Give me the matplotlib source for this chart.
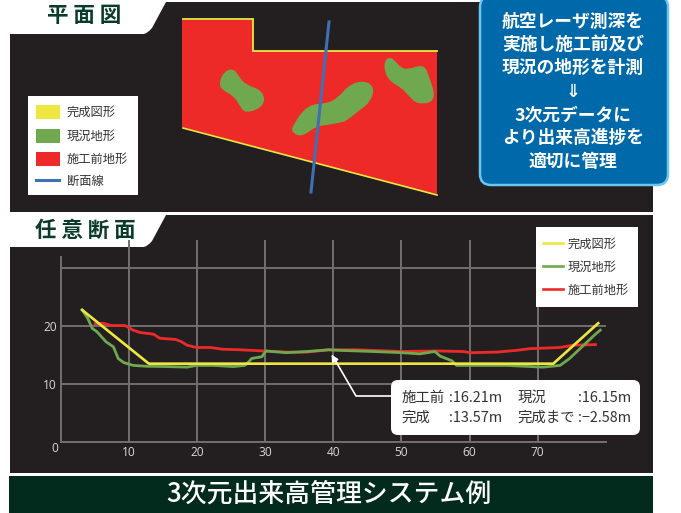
import matplotlib
matplotlib.use("Agg")
import matplotlib.pyplot as plt
from matplotlib.patches import Polygon, Rectangle, FancyBboxPatch, PathPatch
from matplotlib.path import Path

plt.rcParams['font.family'] = ['Noto Sans CJK JP', 'DejaVu Sans']

W, H = 681, 513
DARK = '#231f20'
RED = '#ee2a29'
GREEN = '#6fa84f'
YELLOW = '#efe741'
BLUE = '#3f6fb5'
TITLE = '#0b3b2a'
GRID = '#716f71'

# section profile (distance, elevation)
yellow_x = [3.1, 12.9, 72.3, 78.9]
yellow_y = [22.8, 13.5, 13.5, 20.5]
green_x = [3.1, 3.9, 4.6, 5.3, 6.6, 7.7, 8.4, 9.2, 10.6, 12.6, 15.5, 18.5, 19.9, 22.4, 25.3, 27.0, 27.6, 28.0,
           29.5, 30.1, 33.1, 36.1, 39.3, 41.0, 45.9, 50.1, 52.7, 54.9, 55.7, 57.4, 58.1, 60.6, 65.4, 70.8,
           73.3, 74.7, 76.5, 78.4, 79.2]
green_y = [22.8, 21.4, 19.6, 19.0, 17.3, 16.4, 14.4, 13.7, 13.2, 13.05, 13.0, 12.9, 13.2, 13.2, 13.0, 13.2, 13.85,
           14.4, 14.7, 15.7, 15.4, 15.6, 15.9, 15.8, 15.6, 15.4, 15.2, 15.6, 14.8, 14.0, 13.2, 13.2, 13.2, 12.9,
           13.2, 14.4, 16.4, 18.5, 19.3]
red_x = [5.0, 6.2, 7.4, 9.4, 10.6, 11.6, 13.6, 14.5, 16.8, 17.7, 18.5, 19.9, 21.9, 23.7, 26.3, 29.7, 33.1, 36.1,
         39.3, 43.4, 50.1, 55.2, 59.1, 60.1, 64.0, 66.9, 68.9, 73.3, 75.2, 78.5]
red_y = [20.4, 20.5, 20.1, 20.1, 19.3, 18.9, 18.6, 17.9, 17.7, 17.3, 16.7, 16.3, 16.3, 16.0, 15.9, 15.7, 15.5,
         15.5, 15.9, 15.9, 15.6, 15.7, 15.6, 15.4, 15.5, 15.8, 16.1, 16.3, 16.7, 16.8]
x_ticks = [10, 20, 30, 40, 50, 60, 70]
y_ticks = [0, 10, 20, 30]
y_tick_labels = ['', '10', '20', '']

# plan view outlines (image pixels)
plan_red = [(182, 20), (253, 20), (253, 51), (437, 51), (437, 195), (182, 127)]
plan_yellow_top = [(183, 19), (253, 19), (253, 50.5), (437, 50.5)]
plan_yellow_bottom = [(183, 128), (437, 195)]
plan_section = [(329, 22), (311, 192)]
blob_a = [(221, 82), (225, 73), (233, 70), (238, 78), (245, 86), (262, 92), (263, 105), (246, 112), (241, 105),
          (235, 95), (222, 88)]
blob_b = [(293, 128), (308, 106), (328, 105), (340, 98), (350, 86), (364, 82), (373, 88), (369, 101), (360, 108),
          (345, 120), (340, 121), (330, 123), (315, 125), (302, 135), (294, 132)]
blob_c = [(385, 65), (389, 58), (395, 63), (400, 69), (408, 71), (423, 66), (427, 75), (435, 100), (418, 103),
          (410, 95), (403, 87), (389, 79)]

box_lines = ['航空レーザ測深を', '実施し施工前及び', '現況の地形を計測', '⇓', '3次元データに', 'より出来高進捗を', '適切に管理']
plan_legend = ['完成図形', '現況地形', '施工前地形', '断面線']
chart_legend = ['完成図形', '現況地形', '施工前地形']

fig = plt.figure(figsize=(W / 100, H / 100), dpi=100, facecolor='white')

def full_axes(z):
    a = fig.add_axes([0, 0, 1, 1], zorder=z)
    a.set_xlim(0, W)
    a.set_ylim(H, 0)
    a.axis('off')
    return a

bg = full_axes(0)
top = full_axes(5)

# panels
bg.add_patch(Rectangle((10, 2), 643, 210, fc=DARK, ec='none'))
bg.add_patch(Rectangle((10, 215), 643, 258, fc=DARK, ec='none'))
bg.add_patch(Rectangle((9, 476), 644, 37, fc='#022a1d', ec='none'))

def tab(y0):
    v = [(10, y0 - 2), (166, y0 - 2), (166, y0), (152, y0 + 26), (147, y0 + 32), (143, y0 + 32), (10, y0 + 32), (10, y0 - 2)]
    c = [Path.MOVETO, Path.LINETO, Path.LINETO, Path.LINETO, Path.CURVE3, Path.CURVE3, Path.LINETO, Path.CLOSEPOLY]
    bg.add_patch(PathPatch(Path(v, c), fc='white', ec='none'))

tab(2)
tab(215)
bg.text(84, 16, '平 面 図', fontsize=15.5, fontweight='bold', color=TITLE, ha='center', va='center')
bg.text(85, 230, '任 意 断 面', fontsize=15.5, fontweight='bold', color=TITLE, ha='center', va='center')
bg.text(329, 494, '3次元出来高管理システム例', fontsize=18.6, fontweight='medium', color='white', ha='center', va='center')

# plan
bg.add_patch(Polygon(plan_red, closed=True, fc=RED, ec='none'))

def blob(pts):
    n = len(pts)
    mid = lambda p, q: ((p[0] + q[0]) / 2, (p[1] + q[1]) / 2)
    v = [mid(pts[-1], pts[0])]
    c = [Path.MOVETO]
    for i in range(n):
        v += [pts[i], mid(pts[i], pts[(i + 1) % n])]
        c += [Path.CURVE3, Path.CURVE3]
    bg.add_patch(PathPatch(Path(v, c), fc=GREEN, ec=GREEN, lw=2.2))

blob(blob_a)
blob(blob_b)
blob(blob_c)
bg.plot(*zip(*plan_yellow_top), color=YELLOW, lw=1.3, solid_joinstyle='miter')
bg.plot(*zip(*plan_yellow_bottom), color=YELLOW, lw=1.2)
bg.plot(*zip(*plan_section), color=BLUE, lw=2.2)

# plan legend
bg.add_patch(Rectangle((28, 96), 110, 99, fc='white', ec='none'))
for yc, col in zip([112, 135.5, 159], [YELLOW, GREEN, RED]):
    bg.add_patch(Rectangle((36, yc - 7), 24, 14, fc=col, ec='none'))
bg.plot([36, 59], [180, 180], color=BLUE, lw=2.2)
for yc, s in zip([112.5, 136, 159, 181], plan_legend):
    bg.text(66.5, yc, s, fontsize=8.8, color='#333333', ha='left', va='center')

# blue box
top.add_patch(FancyBboxPatch((487, 3), 174, 175, boxstyle='round,pad=7,rounding_size=11',
                             fc='#0069aa', ec='#6cc5f1', lw=1.8, clip_on=False))
for yc, s in zip([22, 45, 68, 92, 115, 138, 162], box_lines):
    top.text(573, yc, s, fontsize=12.8, fontweight='bold', fontstyle='italic', color='white', ha='center', va='center')

# chart
x0, x80, y0_px, y_top = 61, 605.7, 441.7, 240
ax = fig.add_axes([x0 / W, 1 - y0_px / H, (x80 - x0) / W, (y0_px - y_top) / H], zorder=2)
ax.patch.set_alpha(0)
ax.set_xlim(0, 80)
ax.set_ylim(0, (y0_px - y_top) / 5.78)
ax.set_xticks(x_ticks)
ax.set_yticks(y_ticks, labels=y_tick_labels)
ax.grid(True, color=GRID, lw=1.4)
ax.set_axisbelow(True)
for s in ['top', 'right']:
    ax.spines[s].set_visible(False)
for s in ['left', 'bottom']:
    ax.spines[s].set_color(GRID)
    ax.spines[s].set_linewidth(1.4)
ax.spines['left'].set_bounds(0, 32)
ax.tick_params(length=0, labelcolor='#d8d8d8', labelsize=8.6, pad=3)
for lab in ax.get_xticklabels() + ax.get_yticklabels():
    lab.set_family('Open Sans')
ax.plot(red_x, red_y, color=RED, lw=2)
ax.plot(green_x, green_y, color=GREEN, lw=2)
ax.plot(yellow_x, yellow_y, color=YELLOW, lw=1.9)
top.text(55, 449, '0', family='Open Sans', fontsize=8.6, color='#d8d8d8', ha='center', va='center')

# chart legend
top.add_patch(Rectangle((536, 227), 102, 80, fc='white', ec='none'))
for yc, col, s in zip([243, 266, 289], [YELLOW, GREEN, RED], chart_legend):
    top.plot([543, 563], [yc, yc], color=col, lw=1.9)
    top.text(568, yc + 1, s, fontsize=8.8, color='#333333', ha='left', va='center')

# callout
top.plot([335, 356, 391], [360, 396, 396], color='white', lw=1.2)
top.annotate('', xy=(331.5, 354.5), xytext=(337, 364),
             arrowprops=dict(arrowstyle='-|>', color='white', lw=1.2, mutation_scale=10, shrinkA=0, shrinkB=0))
top.add_patch(FancyBboxPatch((396, 385), 239, 45, boxstyle='round,pad=5,rounding_size=7', fc='white', ec='none'))
tc = '#333333'
for x, y, s in [(401.5, 398, '施工前'), (449.5, 398, ':16.21m'), (517.5, 398, '現況'), (578, 398, ':16.15m'),
                (401.5, 418, '完成'), (449.5, 418, ':13.57m'), (517.5, 418, '完成まで'), (578, 418, ':−2.58m')]:
    top.text(x, y, s, fontsize=10.4, color=tc, ha='left', va='center')

fig.savefig('out.png', dpi=100)
